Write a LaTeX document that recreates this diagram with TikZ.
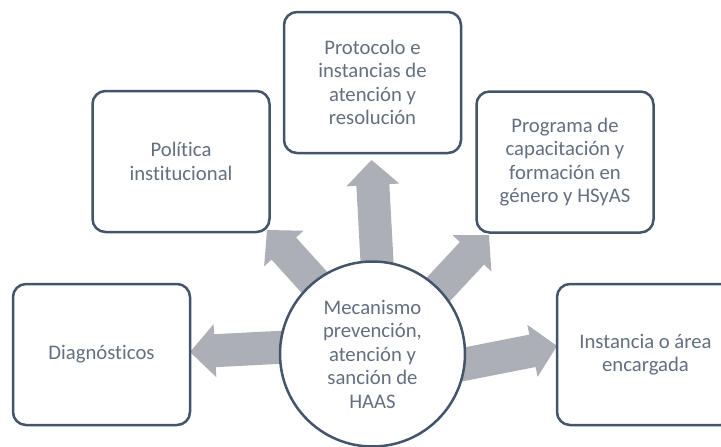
\documentclass[tikz,border=0pt]{standalone}
\usepackage{fontspec}
\setmainfont{Carlito}[Ligatures=NoCommon]
\usetikzlibrary{calc}
\definecolor{boxline}{RGB}{68,84,106}
\definecolor{arrfill}{RGB}{172,175,182}
\definecolor{txtcol}{RGB}{100,111,128}
\tikzset{
  boxnode/.style={draw=boxline, line width=2.5pt, rounded corners=13pt, fill=white,
    minimum width=177pt, minimum height=141pt, align=center, text=txtcol,
    font=\fontsize{20.7}{23.5}\selectfont, inner sep=0pt},
  hubnode/.style={circle, draw=boxline, line width=2.5pt, fill=white,
    minimum size=185pt, align=center, text=txtcol,
    font=\fontsize{20.7}{23.5}\selectfont, inner sep=0pt},
  blockarrow/.style={fill=arrfill}
}
\newcommand{\blockarr}[2]{%
  \coordinate (hb) at ($(#2)!25pt!(#1)$);
  \fill[blockarrow] ($(#1)!16.5pt!90:(#2)$) -- ($(hb)!16.5pt!-90:(#1)$)
    -- ($(hb)!26.5pt!-90:(#1)$) -- (#2) -- ($(hb)!26.5pt!90:(#1)$)
    -- ($(hb)!16.5pt!90:(#1)$) -- ($(#1)!16.5pt!-90:(#2)$) -- cycle;
}
\begin{document}
\begin{tikzpicture}[x=1pt,y=-1pt]
\useasboundingbox (0,0) rectangle (721,447);
\clip (0,0) rectangle (721,447);
% arrow start / tip points
\coordinate (a1s) at (305,346);
\coordinate (a1t) at (190,352);
\coordinate (a2s) at (334,304);
\coordinate (a2t) at (267,230);
\coordinate (a3s) at (378,280);
\coordinate (a3t) at (371.5,160);
\coordinate (a4s) at (421,308);
\coordinate (a4t) at (489,235);
\coordinate (a5s) at (445,368);
\coordinate (a5t) at (557,346);
\blockarr{a1s}{a1t}
\blockarr{a2s}{a2t}
\blockarr{a3s}{a3t}
\blockarr{a4s}{a4t}
\blockarr{a5s}{a5t}
% nodes
\node[hubnode] (hub) at (372.5,354) {Mecanismo\\prevención,\\atención y\\sanción de\\HAAS};
\node[boxnode] (diag) at (101.5,354.5) {Diagnósticos};
\node[boxnode] (pol) at (181,161.5) {Política\\institucional};
\node[boxnode] (prot) at (372.5,82.5) {Protocolo e\\instancias de\\atención y\\resolución};
\node[boxnode] (prog) at (565,162) {Programa de\\capacitación y\\formación en\\género y HSyAS};
\node[boxnode] (inst) at (645.5,354.5) {Instancia o área\\encargada};
\end{tikzpicture}
\end{document}
